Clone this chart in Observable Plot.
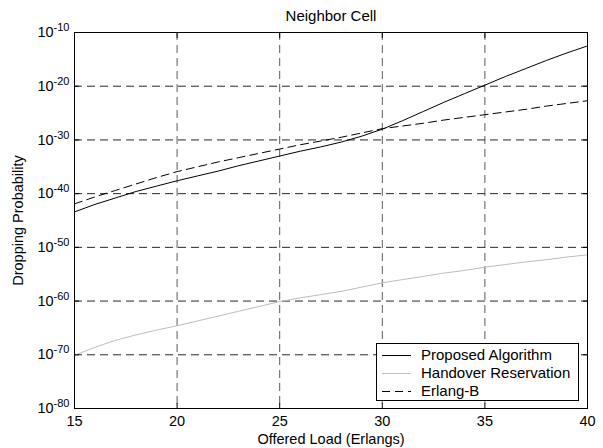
<!DOCTYPE html>
<html><head><meta charset="utf-8">
<script src="https://cdn.jsdelivr.net/npm/d3@7"></script>
<script src="https://cdn.jsdelivr.net/npm/@observablehq/plot@0.6"></script>
<style>
body{margin:0;background:#fff;font-family:"Liberation Sans",Arial,Helvetica,sans-serif;}
#wrap{position:relative;width:603px;height:448px;overflow:hidden;}
#legend{position:absolute;left:376px;top:343px;width:203px;height:58px;border:1px solid #000;background:#fff;box-sizing:border-box;font-size:15px;color:#000;}
#legend .row{position:absolute;left:0;height:18px;line-height:18px;white-space:nowrap;}
#legend svg{position:absolute;left:5px;top:0;}
#legend span{position:absolute;left:44px;top:0;}
</style></head>
<body><div id="wrap"></div>
<script>
// Offered load (Erlangs)
const load = [15,16,17,18,19,20,21,22,23,24,25,26,27,28,29,30,31,32,33,34,35,36,37,38,39,40];
// Dropping probability, read as base-10 exponents
const proposedExp = [-43.4,-42.0,-40.8,-39.6,-38.6,-37.6,-36.7,-35.8,-34.8,-33.9,-33.0,-32.1,-31.3,-30.4,-29.3,-28.0,-26.4,-24.7,-23.0,-21.4,-19.8,-18.2,-16.7,-15.2,-13.8,-12.5];
const handoverExp = [-70.1,-68.6,-67.3,-66.3,-65.4,-64.6,-63.7,-62.8,-61.9,-61.0,-60.1,-59.4,-58.8,-58.2,-57.4,-56.6,-56.0,-55.4,-54.8,-54.3,-53.7,-53.2,-52.7,-52.3,-51.8,-51.4];
const erlangExp = [-41.9,-40.6,-39.4,-38.2,-37.0,-35.9,-35.0,-34.1,-33.3,-32.5,-31.7,-30.9,-30.2,-29.5,-28.7,-27.9,-27.4,-26.9,-26.3,-25.8,-25.3,-24.8,-24.3,-23.7,-23.2,-22.7];
const seriesNames = ["Proposed Algorithm","Handover Reservation","Erlang-B"];
const xTicks = [15,20,25,30,35,40];
const yTickExps = [-80,-70,-60,-50,-40,-30,-20,-10];
const titleText = "Neighbor Cell";
const xLabel = "Offered Load (Erlangs)";
const yLabel = "Dropping Probability";

const yTicks = yTickExps.map(e => Math.pow(10, e));
const mk = (exps, s) => load.map((x, i) => ({x, p: Math.pow(10, exps[i]), s}));
const dProp = mk(proposedExp, seriesNames[0]);
const dHand = mk(handoverExp, seriesNames[1]);
const dErl = mk(erlangExp, seriesNames[2]);

const styles = [
  {stroke:"#000", dash:null},
  {stroke:"#bdbdbd", dash:null},
  {stroke:"#000", dash:"8,5"}
];

const fmtY = d => "10^" + Math.round(Math.log10(d));
const chart = Plot.plot({
  width: 603, height: 448,
  marginLeft: 74, marginRight: 16, marginTop: 32, marginBottom: 40,
  style: {fontFamily: "Liberation Sans, Arial, Helvetica, sans-serif", fontSize: "14px", background: "#fff", color: "#000", overflow: "visible"},
  x: {domain: [15, 40]},
  y: {type: "log", domain: [1e-80, 1e-10]},
  marks: [
    Plot.gridX(xTicks, {stroke: "#000", strokeOpacity: 0.65, strokeDasharray: "8,5"}),
    Plot.gridY(yTicks, {stroke: "#000", strokeOpacity: 0.85, strokeDasharray: "8,5"}),
    Plot.line(dHand, {x: "x", y: "p", stroke: styles[1].stroke, strokeWidth: 1}),
    Plot.line(dErl, {x: "x", y: "p", stroke: styles[2].stroke, strokeWidth: 1, strokeDasharray: styles[2].dash}),
    Plot.line(dProp, {x: "x", y: "p", stroke: styles[0].stroke, strokeWidth: 1}),
    Plot.axisX(xTicks, {anchor: "bottom", tickSize: 0, tickPadding: 7, fontSize: 14.5, tickFormat: d => String(d), label: xLabel, labelAnchor: "center", labelOffset: 35, labelArrow: "none"}),
    Plot.axisX(xTicks, {anchor: "bottom", tickSize: -5, tickFormat: () => "", label: null}),
    Plot.axisX(xTicks, {anchor: "top", tickSize: -5, tickFormat: () => "", label: null}),
    Plot.axisY(yTicks, {anchor: "left", tickSize: 0, tickPadding: 5, fontSize: 14.5, tickFormat: fmtY, label: yLabel, labelAnchor: "center", labelOffset: 62, labelArrow: "none"}),
    Plot.axisY(yTicks, {anchor: "left", tickSize: -5, tickFormat: () => "", label: null}),
    Plot.axisY(yTicks, {anchor: "right", tickSize: -5, tickFormat: () => "", label: null}),
    Plot.text([titleText], {frameAnchor: "top", dy: -12, fontSize: 15, lineAnchor: "bottom"}),
    Plot.frame({stroke: "#000", strokeWidth: 1})
  ]
});

// superscript exponents on y tick labels
const ns = "http://www.w3.org/2000/svg";
chart.querySelectorAll('g[aria-label="y-axis tick label"] text').forEach(t => {
  const m = t.textContent.match(/^10\^(-?\d+)$/);
  if (!m) return;
  t.textContent = "";
  const b = document.createElementNS(ns, "tspan"); b.textContent = "10";
  const s = document.createElementNS(ns, "tspan"); s.textContent = m[1];
  s.setAttribute("dy", "-0.55em"); s.setAttribute("font-size", "11px");
  t.append(b, s);
});

const wrap = document.getElementById("wrap");
wrap.appendChild(chart);

// legend
const lg = document.createElement("div"); lg.id = "legend";
seriesNames.forEach((name, i) => {
  const row = document.createElement("div"); row.className = "row";
  row.style.top = (2 + i * 18) + "px"; row.style.width = "100%";
  const sv = document.createElementNS(ns, "svg");
  sv.setAttribute("width", "30"); sv.setAttribute("height", "18");
  const ln = document.createElementNS(ns, "line");
  ln.setAttribute("x1", "0"); ln.setAttribute("x2", "29"); ln.setAttribute("y1", "9.5"); ln.setAttribute("y2", "9.5");
  ln.setAttribute("stroke", styles[i].stroke); ln.setAttribute("stroke-width", "1");
  if (styles[i].dash) ln.setAttribute("stroke-dasharray", styles[i].dash);
  sv.appendChild(ln);
  const sp = document.createElement("span"); sp.textContent = name;
  row.append(sv, sp); lg.appendChild(row);
});
wrap.appendChild(lg);
</script>
</body></html>
